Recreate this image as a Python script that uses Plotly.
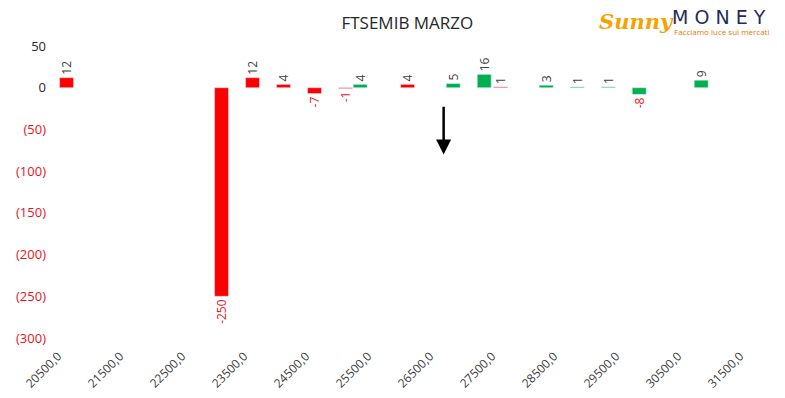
import plotly.graph_objects as go

# Strikes (category start), 22 categories of 500 points
strikes = [20500 + 500 * k for k in range(22)]
red_vals = [12, None, None, None, None, -250, 12, 4, -7, -1, None, 4, None, None, 1,
            None, None, None, None, None, None, None]
green_vals = [None, None, None, None, None, None, None, None, None, 4, None, None, 5, 16, None,
              3, 1, 1, -8, None, 9, None]

x_ticks = [20500 + 1000 * j for j in range(12)]
x_tick_labels = [f"{v},0" for v in x_ticks]
y_ticks = [50, 0, -50, -100, -150, -200, -250, -300]
y_grid = [-50, -100, -150, -200, -250]

RED = "#FF0000"
GREEN = "#00B050"
NEG = "#E8141C"
POS = "#404040"


def label_colors(vals):
    return [NEG if (v is not None and v < 0) else POS for v in vals]


def labels(vals):
    return [("" if v is None else str(v)) for v in vals]


fig = go.Figure()
for vals, col, off in ((red_vals, RED, 25), (green_vals, GREEN, 262)):
    fig.add_bar(x=strikes, y=vals, marker_color=col, offset=off, width=225,
                text=labels(vals), textposition="outside", textangle=-90,
                constraintext="none",
                textfont=dict(color=label_colors(vals), size=12, family="Open Sans"),
                cliponaxis=False)

ytext = []
for v in y_ticks:
    if v < 0:
        ytext.append(f"<span style='color:{NEG}'>({abs(v)})</span>")
    else:
        ytext.append(str(v))

fig.update_layout(
    width=777, height=390,
    margin=dict(l=50, r=45, t=38, b=60),
    paper_bgcolor="white", plot_bgcolor="white",
    showlegend=False,
    barmode="overlay",
    font=dict(family="Open Sans", color="#404040"),
    title=dict(text="FTSEMIB MARZO", x=0.514, xanchor="center", y=0.962, yanchor="middle",
               font=dict(size=17, color="#262626", family="Open Sans")),
    xaxis=dict(range=[20500, 31500], tickvals=x_ticks, ticktext=x_tick_labels,
               tickangle=-45, showgrid=False, zeroline=False, showline=False,
               tickfont=dict(size=12, color="#404040"), ticks="", automargin=False,
               ticklabelstandoff=8),
    yaxis=dict(range=[-300, 50], tickvals=y_ticks, ticktext=ytext, showgrid=False,
               zeroline=False, showline=False, tickfont=dict(size=13, color="#262626"),
               ticklabelstandoff=11, automargin=False),
    yaxis2=dict(range=[-300, 50], overlaying="y", tickvals=y_grid, showticklabels=False,
                showgrid=True, gridcolor="#D9D9D9", griddash="dot", gridwidth=1,
                zeroline=False, showline=False),
)

# Arrow annotation
fig.add_annotation(x=26720, y=-80, ax=26720, ay=-21, xref="x", yref="y", axref="x", ayref="y",
                   showarrow=True, arrowhead=2, arrowsize=1.2, arrowwidth=2.5, arrowcolor="black",
                   text="")

# Logo (text approximation)
fig.add_annotation(x=0.790, y=1.085, xref="paper", yref="paper", xanchor="left", yanchor="middle",
                   text="<b><i>Sunny</i></b>", showarrow=False,
                   font=dict(size=21, color="#F5A300", family="DejaVu Serif"))
fig.add_annotation(x=0.899, y=1.098, xref="paper", yref="paper", xanchor="left", yanchor="middle",
                   text="M O N E Y", showarrow=False, borderpad=0,
                   font=dict(size=19, color="#1F2D5A", family="DejaVu Sans"))
fig.add_annotation(x=0.902, y=1.050, xref="paper", yref="paper", xanchor="left", yanchor="middle",
                   text="Facciamo luce sui mercati", showarrow=False, borderpad=0,
                   font=dict(size=8, color="#E07B00", family="Open Sans"))

fig.write_html("out.html")
